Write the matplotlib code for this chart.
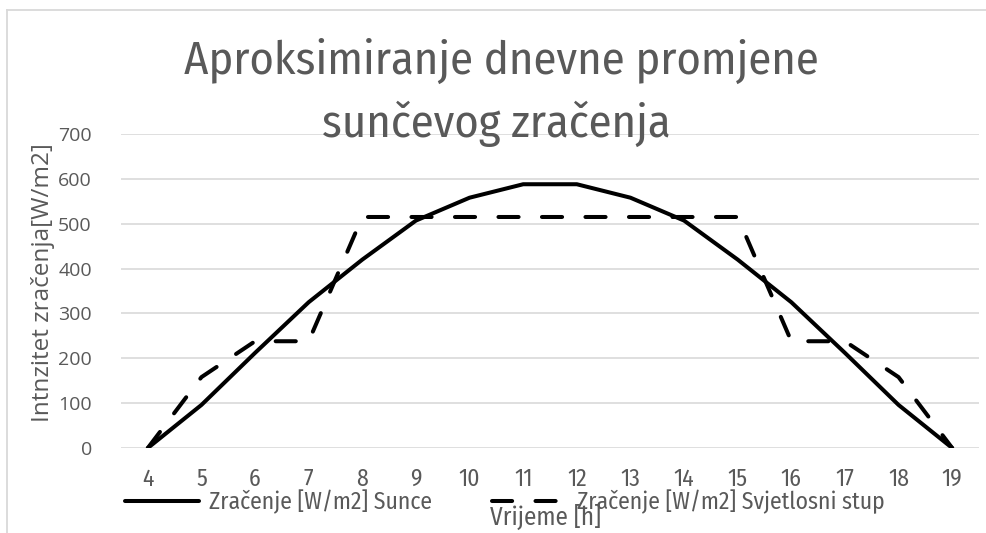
import matplotlib
matplotlib.use("Agg")
import matplotlib.pyplot as plt
from matplotlib.lines import Line2D

hours = [4, 5, 6, 7, 8, 9, 10, 11, 12, 13, 14, 15, 16, 17, 18, 19]
sunce = [0, 96, 212, 325, 420, 507, 558, 588, 588, 558, 507, 420, 325, 212, 96, 0]
stup = [0, 158, 238, 238, 515, 515, 515, 515, 515, 515, 515, 515, 238, 238, 158, 0]

title_lines = ["Aproksimiranje dnevne promjene", "sunčevog zračenja"]
ylabel = "Intnzitet zračenja[W/m2]"
xlabel = "Vrijeme [h]"
series_names = ["Zračenje [W/m2] Sunce", "Zračenje [W/m2] Svjetlosni stup"]
yticks = [0, 100, 200, 300, 400, 500, 600, 700]

NARROW = ["Fira Sans Condensed", "DejaVu Sans"]
NORMAL = ["Open Sans", "DejaVu Sans"]
TXT = "#595959"

W, H = 987, 533
fig = plt.figure(figsize=(W / 100, H / 100), dpi=100)
ax = fig.add_axes([121 / W, 1 - 448 / H, (979 - 121) / W, (448 - 134) / H])

x = list(range(len(hours)))
l1, = ax.plot(x, sunce, color="black", lw=2.9, solid_capstyle="round", solid_joinstyle="round",
              label=series_names[0])
l2, = ax.plot(x, stup, color="black", lw=2.9, dashes=(5.0, 5.8), dash_capstyle="round",
              dash_joinstyle="round", label=series_names[1])

ax.set_xlim(-0.5, len(hours) - 0.5)
ax.set_ylim(0, 700)
ax.set_yticks(yticks)
ax.set_xticks(x)
ax.set_xticklabels([str(h) for h in hours], family=NARROW, fontsize=17, color=TXT)
ax.set_yticklabels([str(v) for v in yticks], family=NORMAL, fontsize=14, color=TXT)
ax.tick_params(axis="both", length=0)
ax.tick_params(axis="y", pad=21)
ax.tick_params(axis="x", pad=14)
ax.grid(axis="y", color="#d9d9d9", lw=1.2)
ax.set_axisbelow(True)
for s in ax.spines.values():
    s.set_visible(False)

fig.text(43 / W, 1 - 283 / H, ylabel, rotation=90, ha="center", va="center",
         family=NORMAL, fontsize=17.5, color=TXT)
fig.text(490 / W, 1 - 525 / H, xlabel, ha="left", va="baseline",
         family=NARROW, fontsize=18, color=TXT)

fig.text(501 / W, 1 - 74 / H, title_lines[0], ha="center", va="baseline",
         family=NARROW, fontsize=33.5, color=TXT)
fig.text(496 / W, 1 - 137 / H, title_lines[1], ha="center", va="baseline",
         family=NARROW, fontsize=33.5, color=TXT)

common = dict(loc="center left", frameon=False, handletextpad=0.4,
              prop={"family": NARROW, "size": 17}, borderaxespad=0, borderpad=0)
leg1 = fig.legend(handles=[l1], bbox_to_anchor=(125 / W, 1 - 502 / H), handlelength=3.15, **common)
leg2 = fig.legend(handles=[l2], bbox_to_anchor=(492 / W, 1 - 502 / H), handlelength=3.2, **common)
for leg in (leg1, leg2):
    for t in leg.get_texts():
        t.set_color(TXT)

# outer chart border (light grey)
fig.add_artist(Line2D([7 / W, 1], [1 - 9.5 / H, 1 - 9.5 / H], transform=fig.transFigure,
                      color="#d9d9d9", lw=1.3))
fig.add_artist(Line2D([7 / W, 7 / W], [0, 1 - 9.5 / H], transform=fig.transFigure,
                      color="#d9d9d9", lw=1.3))

fig.savefig("out.png", dpi=100)
